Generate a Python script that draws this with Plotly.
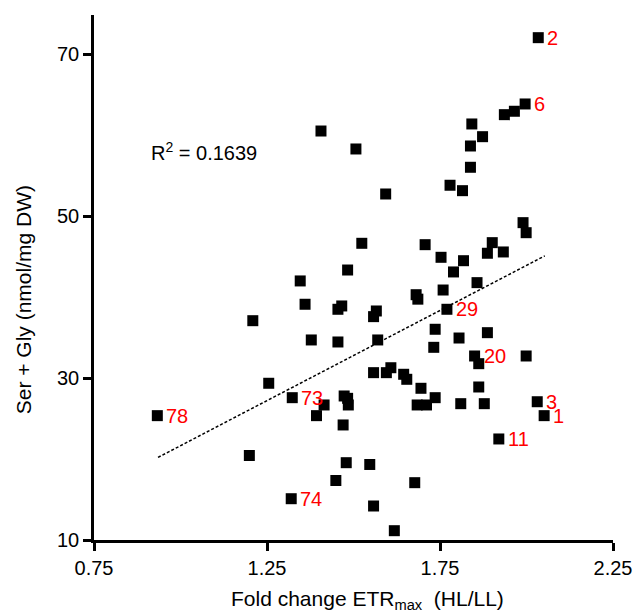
import plotly.graph_objects as go

# Fold change ETRmax (HL/LL)
x_vals = [2.034, 1.996, 1.965, 1.936, 1.842, 1.873, 1.838, 1.838, 1.779, 1.815,
          1.406, 1.507, 1.593, 1.990, 1.999, 1.901, 1.887, 1.933, 1.818, 1.753,
          1.707, 1.524, 1.483, 1.759, 1.789, 1.857, 1.681, 1.686, 1.346, 1.360,
          1.466, 1.455, 1.566, 1.558, 1.770, 1.209, 1.736, 1.378, 1.455, 1.570,
          1.805, 1.887, 1.732, 1.850, 1.862, 1.999, 1.608, 1.595, 1.558, 1.645,
          1.654, 1.255, 1.695, 1.862, 1.736, 1.323, 1.473, 1.483, 1.485, 1.415,
          1.684, 1.711, 1.810, 1.878, 2.031, 2.051, 1.393, 0.933, 1.470, 1.920,
          1.199, 1.479, 1.547, 1.449, 1.677, 1.320, 1.558, 1.618]
# Ser + Gly (nmol/mg DW)
y_vals = [72.05, 63.86, 62.96, 62.54, 61.39, 59.82, 58.67, 56.04, 53.82, 53.15,
          60.52, 58.30, 52.74, 49.20, 47.96, 46.73, 45.42, 45.58, 44.50, 44.92,
          46.48, 46.65, 43.35, 40.88, 43.11, 41.79, 40.30, 39.75, 42.00, 39.12,
          38.91, 38.50, 38.29, 37.59, 38.50, 37.09, 36.03, 34.71, 34.46, 34.71,
          34.95, 35.61, 33.80, 32.73, 31.78, 32.73, 31.28, 30.67, 30.67, 30.47,
          29.85, 29.36, 28.74, 28.90, 27.58, 27.58, 27.79, 27.50, 26.68, 26.68,
          26.68, 26.68, 26.84, 26.84, 27.08, 25.36, 25.36, 25.36, 24.21, 22.48,
          20.44, 19.55, 19.33, 17.35, 17.08, 15.10, 14.20, 11.15]

# labelled points: (index into arrays, label)
label_idx = [0, 1, 34, 43, 64, 65, 69, 55, 67, 75]
label_txt = ["2", "6", "29", "20", "3", "1", "11", "73", "78", "74"]

# regression line end points
fit_x = [0.935, 2.053]
fit_y = [20.2, 45.1]

x_ticks = [0.75, 1.25, 1.75, 2.25]
y_ticks = [10, 30, 50, 70]

FONT = "Arial, 'Liberation Sans', sans-serif"

fig = go.Figure()
fig.add_trace(go.Scatter(x=fit_x, y=fit_y, mode="lines",
                         line=dict(color="black", width=1.5, dash="3px,2px"),
                         hoverinfo="skip", showlegend=False))
fig.add_trace(go.Scatter(x=x_vals, y=y_vals, mode="markers",
                         marker=dict(symbol="square", size=11, color="black",
                                     line=dict(width=0)),
                         showlegend=False))

for i, t in zip(label_idx, label_txt):
    fig.add_annotation(x=x_vals[i], y=y_vals[i], text=t, showarrow=False,
                       xanchor="left", yanchor="middle", xshift=7,
                       font=dict(family=FONT, size=20, color="#ff0000"))

fig.add_annotation(x=0.1056, y=0.74, xref="paper", yref="paper",
                   text="R<sup>2</sup> = 0.1639", showarrow=False,
                   xanchor="left", yanchor="middle",
                   font=dict(family=FONT, size=20, color="black"))

# axis titles
fig.add_annotation(x=(369 - 94) / 521, y=(540 - 600) / 525, xref="paper", yref="paper",
                   text="Fold change ETR<sub>max</sub>\u00a0\u00a0(HL/LL)", showarrow=False,
                   xanchor="center", yanchor="middle",
                   font=dict(family=FONT, size=21, color="black"))
fig.add_annotation(x=(23 - 94) / 521, y=(540 - 300) / 525, xref="paper", yref="paper",
                   text="Ser + Gly (nmol/mg DW)", showarrow=False, textangle=-90,
                   xanchor="center", yanchor="middle",
                   font=dict(family=FONT, size=21, color="black"))

axis_common = dict(showgrid=False, zeroline=False, showline=True, linecolor="black",
                   linewidth=2.5, ticks="outside", ticklen=8, tickwidth=2.5,
                   tickcolor="black", tickfont=dict(family=FONT, size=20, color="black"))

fig.update_xaxes(range=[0.75, 2.25], tickvals=x_ticks,
                 ticktext=[f"{v:.2f}" for v in x_ticks], **axis_common)
fig.update_yaxes(range=[10, 74.85], tickvals=y_ticks,
                 ticktext=[str(v) for v in y_ticks], **axis_common)

fig.update_layout(width=644, height=616,
                  margin=dict(l=94, r=29, t=15, b=76),
                  plot_bgcolor="white", paper_bgcolor="white",
                  font=dict(family=FONT))

fig.write_html("out.html")
